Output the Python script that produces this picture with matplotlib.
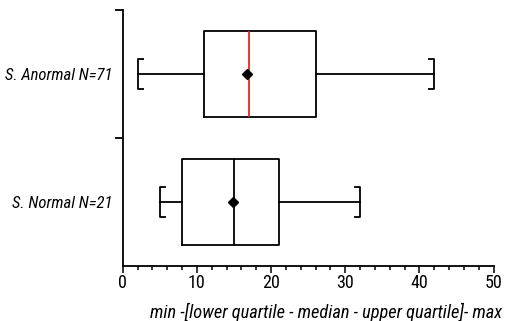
import matplotlib
matplotlib.use("Agg")
import matplotlib.pyplot as plt
from matplotlib.path import Path
from matplotlib.ticker import MultipleLocator, FixedLocator

categories = ["S. Normal N=21", "S. Anormal N=71"]
mins = [5, 2]
q1 = [8, 11]
medians = [15, 17]
q3 = [21, 26]
maxs = [32, 42]
means = [14.8, 16.8]
median_colors = ["black", "#ee2222"]
xticks = [0, 10, 20, 30, 40, 50]
xlabel = "min -[lower quartile - median - upper quartile]- max"

FONT = ["Roboto Condensed", "DejaVu Sans"]
plt.rcParams["font.family"] = FONT

fig = plt.figure(figsize=(5.06, 3.21), dpi=100)
ax = fig.add_axes([122.7 / 506, 1 - 266 / 321, 371 / 506, 256 / 321])

positions = [1, 2]
stats = []
for i, c in enumerate(categories):
    stats.append(dict(label=c, whislo=mins[i], q1=q1[i], med=medians[i],
                      q3=q3[i], whishi=maxs[i], mean=means[i], fliers=[]))

lw = 1.3
bp = ax.bxp(stats, positions=positions, vert=False, widths=0.67,
            showcaps=False, showfliers=False, showmeans=True,
            boxprops=dict(color="black", linewidth=lw),
            whiskerprops=dict(color="black", linewidth=lw),
            medianprops=dict(color="black", linewidth=lw),
            meanprops=dict(marker="D", markerfacecolor="black",
                           markeredgecolor="black", markersize=5.5))
for m, col in zip(bp["medians"], median_colors):
    m.set_color(col)

left_br = Path([(0.2, 0.5), (0, 0.5), (0, -0.5), (0.2, -0.5)],
               [Path.MOVETO, Path.LINETO, Path.LINETO, Path.LINETO])
right_br = Path([(-0.2, 0.5), (0, 0.5), (0, -0.5), (-0.2, -0.5)],
                [Path.MOVETO, Path.LINETO, Path.LINETO, Path.LINETO])
ax.plot(mins, positions, linestyle="none", marker=left_br, markersize=21,
        markerfacecolor="none", markeredgecolor="black", markeredgewidth=lw)
ax.plot(maxs, positions, linestyle="none", marker=right_br, markersize=21,
        markerfacecolor="none", markeredgecolor="black", markeredgewidth=lw)

ax.set_xlim(0, 50)
ax.set_ylim(0.5, 2.5)
ax.spines["top"].set_visible(False)
ax.spines["right"].set_visible(False)
for s in ("left", "bottom"):
    ax.spines[s].set_linewidth(1.3)

ax.set_xticks(xticks)
ax.set_xticklabels([str(t) for t in xticks])
ax.xaxis.set_minor_locator(MultipleLocator(2))
ax.tick_params(axis="x", which="major", length=5, width=1.1, labelsize=13, pad=1)
ax.tick_params(axis="x", which="minor", length=3, width=1.1)

ax.set_yticks(positions)
ax.set_yticklabels(categories, fontstyle="italic", fontsize=12)
ax.yaxis.set_minor_locator(FixedLocator([1.5, 2.5]))
ax.tick_params(axis="y", which="major", length=0, pad=7.5)
ax.tick_params(axis="y", which="minor", length=6, width=1.3)

ax.set_xlabel(xlabel, fontstyle="italic", fontsize=13.2, labelpad=8)
ax.xaxis.set_label_coords((326 - 122.7) / 371, -0.145)

fig.savefig("out.png", dpi=100)
